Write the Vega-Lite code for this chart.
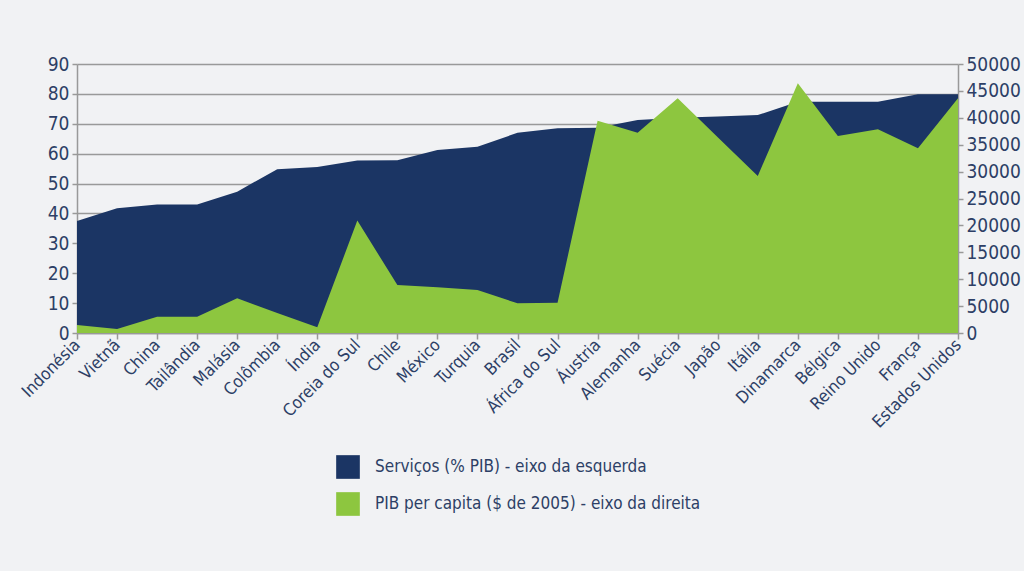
{
  "$schema": "https://vega.github.io/schema/vega-lite/v6.json",
  "width": 881,
  "height": 269,
  "autosize": "none",
  "padding": {"left": 77, "top": 64, "right": 66, "bottom": 238},
  "background": "#f1f2f4",
  "config": {
    "view": {"stroke": null},
    "font": "DejaVu Sans Condensed, Roboto, sans-serif",
    "axis": {"labelColor": "#2d3f66", "labelFont": "DejaVu Sans Condensed, Roboto, sans-serif", "domainColor": "#999999", "tickColor": "#999999", "gridColor": "#999999", "gridWidth": 1.5, "domainWidth": 1.5, "tickWidth": 1.5}
  },
  "data": {"values": [
    {"pais": "Indonésia", "serv": 37.5, "pib": 1500},
    {"pais": "Vietnã", "serv": 41.7, "pib": 750},
    {"pais": "China", "serv": 43.0, "pib": 3030},
    {"pais": "Tailândia", "serv": 43.0, "pib": 3030},
    {"pais": "Malásia", "serv": 47.3, "pib": 6450},
    {"pais": "Colômbia", "serv": 54.8, "pib": 3700},
    {"pais": "Índia", "serv": 55.5, "pib": 1050},
    {"pais": "Coreia do Sul", "serv": 57.7, "pib": 20900},
    {"pais": "Chile", "serv": 57.8, "pib": 8920},
    {"pais": "México", "serv": 61.2, "pib": 8490},
    {"pais": "Turquia", "serv": 62.3, "pib": 7990},
    {"pais": "Brasil", "serv": 67.0, "pib": 5520},
    {"pais": "África do Sul", "serv": 68.5, "pib": 5640},
    {"pais": "Áustria", "serv": 68.7, "pib": 39460},
    {"pais": "Alemanha", "serv": 71.3, "pib": 37240},
    {"pais": "Suécia", "serv": 72.0, "pib": 43620},
    {"pais": "Japão", "serv": 72.4, "pib": 36370},
    {"pais": "Itália", "serv": 72.9, "pib": 29180},
    {"pais": "Dinamarca", "serv": 77.4, "pib": 46400},
    {"pais": "Bélgica", "serv": 77.4, "pib": 36620},
    {"pais": "Reino Unido", "serv": 77.4, "pib": 37850},
    {"pais": "França", "serv": 79.9, "pib": 34330},
    {"pais": "Estados Unidos", "serv": 79.9, "pib": 43620}
  ]},
  "encoding": {
    "x": {"field": "pais", "type": "nominal", "sort": null, "scale": {"type": "point", "padding": 0},
      "axis": {"title": null, "labelAngle": -45, "labelAlign": "right", "labelBaseline": "middle", "labelFontSize": 17, "tickSize": 6, "labelPadding": 3, "grid": false}}
  },
  "layer": [
    {
      "mark": {"type": "area", "interpolate": "linear"},
      "encoding": {
        "y": {"field": "serv", "type": "quantitative", "scale": {"domain": [0, 90], "nice": false},
          "axis": {"title": null, "values": [0,10,20,30,40,50,60,70,80,90], "labelFontSize": 19, "tickSize": 5, "labelPadding": 3, "grid": true, "orient": "left"}},
        "color": {"datum": "Serviços (% PIB) - eixo da esquerda", "type": "nominal",
          "scale": {"domain": ["Serviços (% PIB) - eixo da esquerda", "PIB per capita ($ de 2005) - eixo da direita"], "range": ["#1b3564", "#8dc63f"]},
          "legend": {"title": null, "orient": "none", "legendX": 259, "legendY": 391, "symbolType": "square", "symbolSize": 560, "symbolStrokeWidth": 0, "labelFontSize": 17, "labelLimit": 0, "labelColor": "#2d3f66", "labelFont": "DejaVu Sans Condensed, Roboto, sans-serif", "rowPadding": 13, "labelOffset": 15}}
      }
    },
    {
      "mark": {"type": "area", "interpolate": "linear"},
      "encoding": {
        "y": {"field": "pib", "type": "quantitative", "scale": {"domain": [0, 50000], "nice": false},
          "axis": {"title": null, "orient": "right", "format": "d", "values": [0,5000,10000,15000,20000,25000,30000,35000,40000,45000,50000], "labelFontSize": 19, "tickSize": 5, "labelPadding": 3, "grid": false}},
        "color": {"datum": "PIB per capita ($ de 2005) - eixo da direita", "type": "nominal"}
      }
    }
  ],
  "resolve": {"scale": {"y": "independent"}}
}
